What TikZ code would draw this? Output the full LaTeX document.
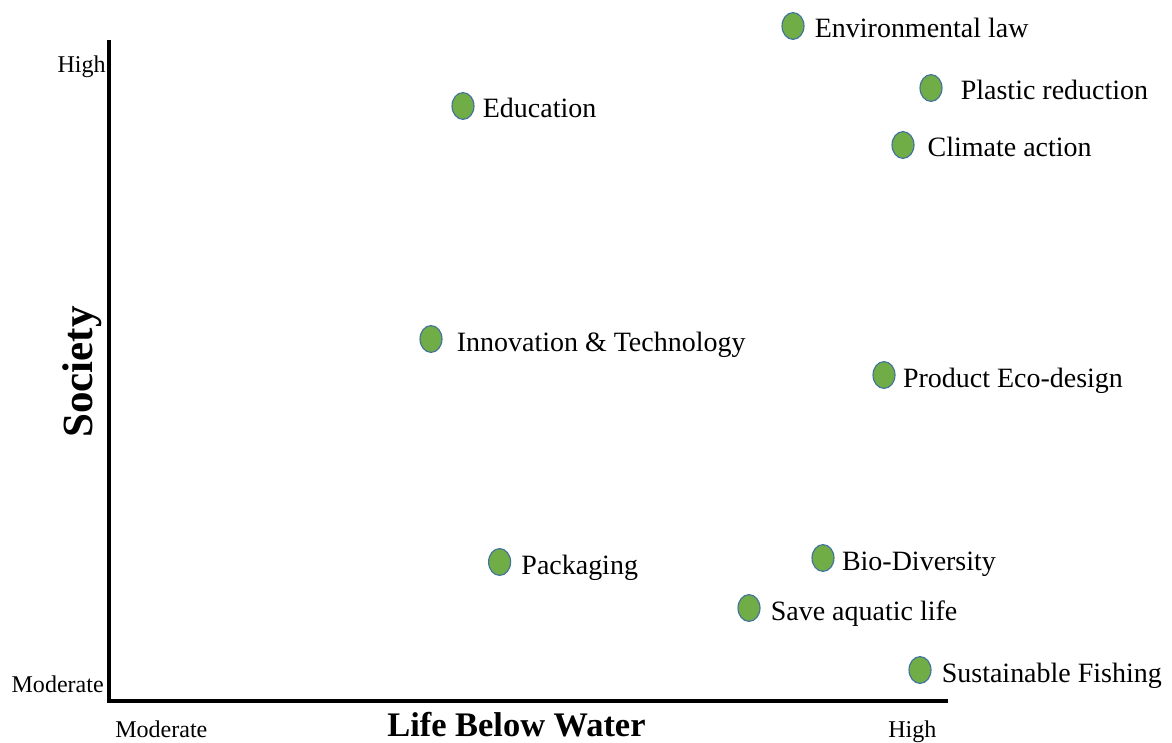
\documentclass[tikz,border=0pt]{standalone}
\usepackage{fontspec}
\setmainfont{Liberation Serif}
\usetikzlibrary{shapes.geometric,positioning}
\definecolor{dotGreen}{HTML}{70AD47}
\definecolor{dotEdge}{HTML}{41719C}
\tikzset{%
	dot/.style      = {draw = dotEdge, fill = dotGreen, line width = 0.8pt, ellipse,
		inner sep = 0pt, minimum width = 0.55cm, minimum height = 0.67cm}, % Item
	lbl/.style      = {inner sep = 0pt, text height = 0.6cm, text depth = 0pt,
		font = \fontsize{19.9}{24}\selectfont}, % Item text
	tick/.style     = {inner sep = 0pt, font = \fontsize{17.1}{20}\selectfont}, % Scale
	axis/.style     = {line width = 2.6pt, line cap = rect} % Axis
}
\begin{document}
\begin{tikzpicture}
			\useasboundingbox (0,0) rectangle (29.3,18.55);
			\coordinate (origin) at (2.725,1.025);
			\coordinate (yTop)   at (2.725,17.5);
			\coordinate (xEnd)   at (23.65,1.025);
			
			\draw[axis] (yTop) -- (origin) -- (xEnd);
			
			\node[tick,anchor=base east] (yHigh) at (2.65,16.725) {High};
			\node[tick,anchor=base east] (yMod)  at (2.6,1.25) {Moderate};
			\node[tick,anchor=base west] (xMod)  at (2.875,0.12) {Moderate};
			\node[tick,anchor=base west] (xHigh) at (22.2,0.12) {High};
			
			\node[anchor=base,inner sep=0pt,font=\bfseries\fontsize{24.5}{28}\selectfont] (xTitle) at (12.91,0.13) {Life Below Water};
			\node[anchor=base,rotate=90,inner sep=0pt,font=\bfseries\fontsize{30.6}{34}\selectfont] (yTitle) at (2.3,9.25) {Society};
			
			\node[dot] (envLaw)    at (19.825,17.9)  {};
			\node[dot] (plastic)   at (23.275,16.35) {};
			\node[dot] (climate)   at (22.575,14.925) {};
			\node[dot] (education) at (11.575,15.9)  {};
			\node[dot] (innov)     at (10.775,10.075) {};
			\node[dot] (ecoDesign) at (22.1,9.175)   {};
			\node[dot] (packaging) at (12.49,4.5)    {};
			\node[dot] (bioDiv)    at (20.575,4.6)   {};
			\node[dot] (aquatic)   at (18.725,3.35)  {};
			\node[dot] (fishing)   at (23.0,1.8)     {};
			
			\node[lbl,right=0.25cm of envLaw]     (envLawTxt)    {Environmental law};
			\node[lbl,right=0.45cm of plastic]    (plasticTxt)   {Plastic reduction};
			\node[lbl,right=0.32cm of climate]    (climateTxt)   {Climate action};
			\node[lbl,right=0.2cm of education]   (educationTxt) {Education};
			\node[lbl,right=0.35cm of innov]      (innovTxt)     {Innovation \& Technology};
			\node[lbl,right=0.18cm of ecoDesign]  (ecoDesignTxt) {Product Eco-design};
			\node[lbl,right=0.25cm of packaging]  (packagingTxt) {Packaging};
			\node[lbl,right=0.18cm of bioDiv]     (bioDivTxt)    {Bio-Diversity};
			\node[lbl,right=0.25cm of aquatic]    (aquaticTxt)   {Save aquatic life};
			\node[lbl,right=0.25cm of fishing]    (fishingTxt)   {Sustainable Fishing};
		\end{tikzpicture}
\end{document}
